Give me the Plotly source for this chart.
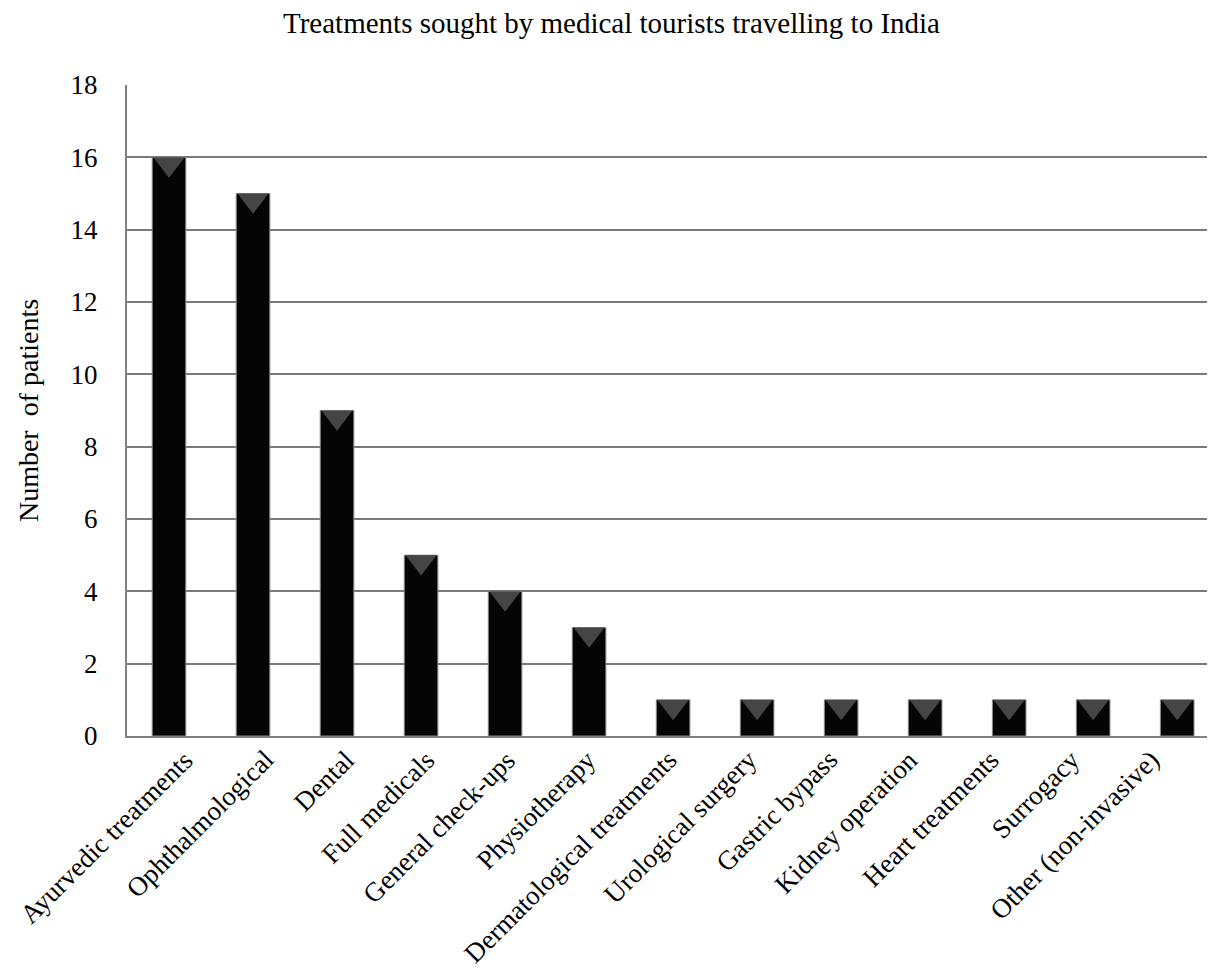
import plotly.graph_objects as go

categories = ["Ayurvedic treatments", "Ophthalmological", "Dental", "Full medicals",
              "General check-ups", "Physiotherapy", "Dermatological treatments",
              "Urological surgery", "Gastric bypass", "Kidney operation",
              "Heart treatments", "Surrogacy", "Other (non-invasive)"]
patients = [16, 15, 9, 5, 4, 3, 1, 1, 1, 1, 1, 1, 1]
y_ticks = [0, 2, 4, 6, 8, 10, 12, 14, 16, 18]

FONT = "Liberation Serif, Times New Roman, serif"

fig = go.Figure()
fig.add_trace(go.Bar(
    x=categories, y=patients, width=0.4,
    marker=dict(color="#050505", line=dict(color="#8a8a8a", width=1)),
    showlegend=False, hoverinfo="x+y",
))
# bevel highlight at bar tops
fig.add_trace(go.Scatter(
    x=categories, y=[v - 0.19 for v in patients], mode="markers",
    marker=dict(symbol="triangle-down", size=27, color="#454545",
                line=dict(width=0)),
    showlegend=False, hoverinfo="skip", cliponaxis=False,
))

# rotated category labels (as annotations so they can sit like the original)
annotations = []
for i, cat in enumerate(categories):
    annotations.append(dict(
        x=cat, xref="x", y=0, yref="y", text=cat, showarrow=False,
        textangle=-45, xanchor="right", yanchor="top",
        xshift=33 - 3.5 * i, yshift=-6,
        font=dict(size=27, family=FONT, color="black"),
    ))

fig.update_layout(
    width=1207, height=963,
    margin=dict(l=119, r=0, t=77, b=235),
    paper_bgcolor="white", plot_bgcolor="white",
    font=dict(family=FONT, color="black"),
    title=dict(text="Treatments sought by medical tourists travelling to India",
               x=0.5, xanchor="center", xref="container", y=0.985, yanchor="middle",
               pad=dict(t=0, b=0),
               font=dict(size=29, family=FONT, color="black")),
    bargap=0.6,
    annotations=annotations,
)
fig.update_xaxes(
    range=[-0.5, 12.45], showticklabels=False,
    showline=True, linecolor="#808080", linewidth=2, showgrid=False,
    ticks="", automargin=False,
)
fig.update_yaxes(
    range=[0, 18], tickvals=y_ticks, tickfont=dict(size=27, family=FONT),
    showline=True, linecolor="#808080", linewidth=2,
    showgrid=True, gridcolor="#7a7a7a", gridwidth=2,
    ticks="", ticklabelstandoff=22, zeroline=False, automargin=False,
    title=dict(text="Number  of patients", font=dict(size=28, family=FONT), standoff=24),
)
fig.write_html("out.html")
